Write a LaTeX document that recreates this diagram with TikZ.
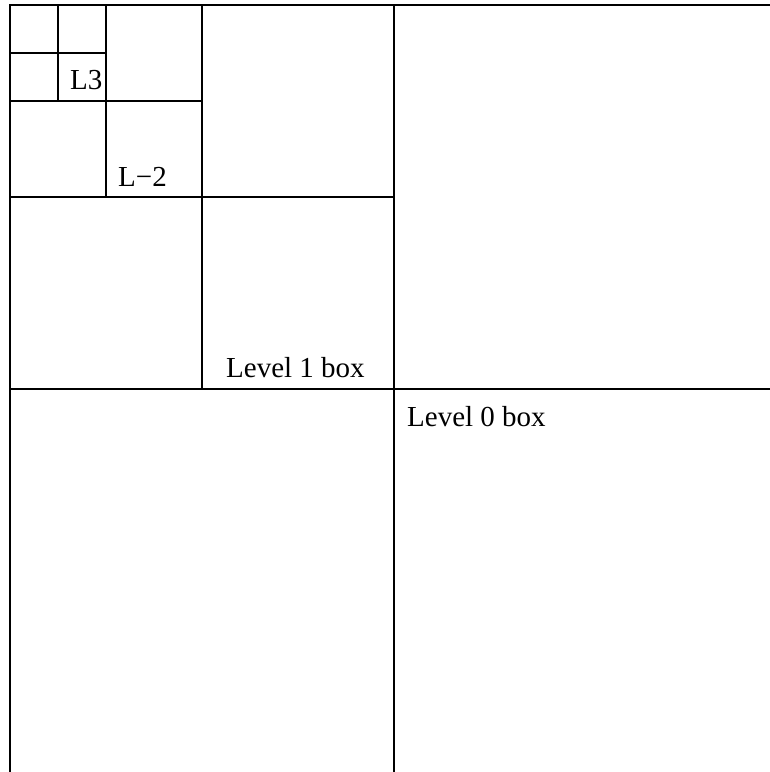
\documentclass[tikz,border=0pt]{standalone}
\usepackage{fontspec}
\setmainfont{Liberation Serif}
\usepackage{tikz}
\tikzstyle{lbl}=[anchor=base west, inner sep=0pt, font=\fontsize{29}{35}\selectfont]
\tikzstyle{edge}=[line width=1.2pt]

\begin{document}
\begin{tikzpicture}[x=1pt,y=-1pt]
    \useasboundingbox (0,0) rectangle (770,772);
    \clip (0,0) rectangle (770,772);
    % outer border of the level 0 box
    \coordinate (o) at (10,5);
    \draw[edge] (10,780) -- (o) -- (780,5);
    % one split per level, halving each time
    \foreach \s in {384,192,96,48} {
        \draw[edge] (10+\s,5) -- ++(0,2*\s);
        \draw[edge] (10,5+\s) -- ++(2*\s,0);
    }
    \node[lbl] (l3) at (70,89) {L3};
    \node[lbl] (l2) at (118,186) {L−2};
    \node[lbl] (l1) at (226,377) {Level 1 box};
    \node[lbl] (l0) at (407,426) {Level 0 box};
\end{tikzpicture}
\end{document}
